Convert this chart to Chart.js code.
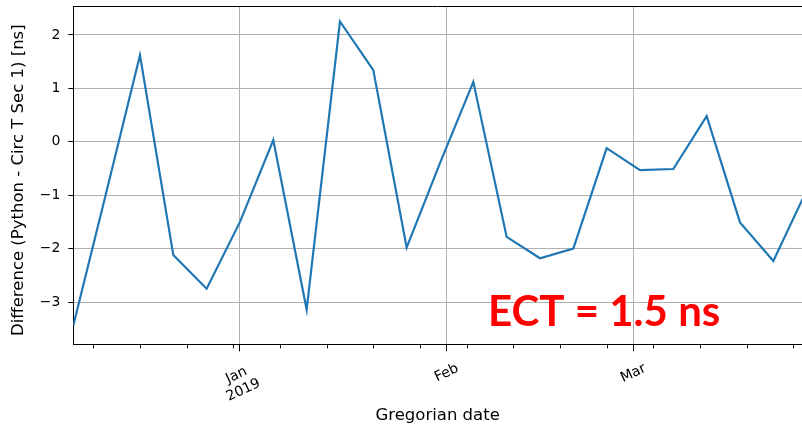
<!DOCTYPE html>
<html>
<head>
<meta charset="utf-8">
<script src="https://cdn.jsdelivr.net/npm/chart.js@4.4.1/dist/chart.umd.min.js"></script>
<style>
  html, body { margin: 0; padding: 0; background: #fff; }
  #wrap { width: 802px; height: 429px; position: relative; }
</style>
</head>
<body>
<div id="wrap"><canvas id="chart"></canvas></div>
<script>
// one sample every 5 days, difference in ns
const dates = [
    '2018-12-07', '2018-12-12', '2018-12-17', '2018-12-22', '2018-12-27',
    '2019-01-01', '2019-01-06', '2019-01-11', '2019-01-16', '2019-01-21', '2019-01-26', '2019-01-31',
    '2019-02-05', '2019-02-10', '2019-02-15', '2019-02-20', '2019-02-25',
    '2019-03-02', '2019-03-07', '2019-03-12', '2019-03-17', '2019-03-22', '2019-03-27'
];
const diffNs = [
    -3.44, -0.92, 1.62, -2.12, -2.75,
    -1.50, 0.03, -3.14, 2.25, 1.34, -1.98, -0.40,
    1.12, -1.78, -2.18, -2.00, -0.12,
    -0.53, -0.51, 0.48, -1.51, -2.23, -0.91
];

const majorTicks = ['2019-01-01', '2019-02-01', '2019-03-01'];
const majorLabels = ['Jan\n2019', 'Feb', 'Mar'];
const minorTicks = [
    '2018-12-10', '2018-12-17', '2018-12-24', '2018-12-31',
    '2019-01-07', '2019-01-14', '2019-01-21', '2019-01-28',
    '2019-02-04', '2019-02-11', '2019-02-18', '2019-02-25',
    '2019-03-04', '2019-03-11', '2019-03-18', '2019-03-25'
];
const yTitle = 'Difference (Python - Circ T Sec 1) [ns]';
const annotation = 'ECT = 1.5 ns';

const origin = Date.parse('2019-01-01');
function dayOf(s) {
    return (Date.parse(s) - origin) / 864e5;
}

const xMin = dayOf('2018-12-07');
const xMax = dayOf('2019-03-26') + 0.3;

const extras = {
    id: 'extras',
    afterDraw(chart) {
        const { ctx, chartArea: a, scales: { x } } = chart;
        ctx.save();
        ctx.strokeStyle = '#000';
        ctx.lineWidth = 1;
        // top spine
        ctx.beginPath();
        ctx.moveTo(a.left, Math.round(a.top) + 0.5);
        ctx.lineTo(a.right, Math.round(a.top) + 0.5);
        ctx.stroke();
        // minor ticks (weekly)
        ctx.beginPath();
        minorTicks.forEach(d => {
            const px = Math.round(x.getPixelForValue(dayOf(d))) + 0.5;
            ctx.moveTo(px, a.bottom);
            ctx.lineTo(px, a.bottom + 4);
        });
        ctx.stroke();
        // rotated month labels
        ctx.font = '14px "DejaVu Sans"';
        ctx.fillStyle = '#000';
        ctx.textAlign = 'center';
        ctx.textBaseline = 'middle';
        const ang = 25 * Math.PI / 180;
        const lh = 16.5;
        majorTicks.forEach((d, i) => {
            const lines = majorLabels[i].split('\n');
            const w = Math.max(...lines.map(l => ctx.measureText(l).width));
            const h = lines.length * lh;
            const boxH = w * Math.sin(ang) + h * Math.cos(ang);
            const cx = x.getPixelForValue(dayOf(d));
            const cy = a.bottom + 16 + boxH / 2;
            ctx.save();
            ctx.translate(cx, cy);
            ctx.rotate(-ang);
            lines.forEach((l, j) => ctx.fillText(l, 0, (j - (lines.length - 1) / 2) * lh));
            ctx.restore();
        });
        // y axis title
        ctx.font = '16.5px "DejaVu Sans"';
        ctx.save();
        ctx.translate(18.3, (a.top + a.bottom) / 2 + 5);
        ctx.rotate(-Math.PI / 2);
        ctx.fillText(yTitle, 0, 0);
        ctx.restore();
        // annotation
        ctx.font = 'bold 42px Lato';
        ctx.fillStyle = '#ff0000';
        ctx.textAlign = 'left';
        ctx.textBaseline = 'alphabetic';
        ctx.fillText(annotation, 488, 326);
        ctx.restore();
    }
};

const ctx = document.getElementById('chart').getContext('2d');
const chart = new Chart(ctx, {
    type: 'line',
    data: {
        datasets: [{
            data: dates.map((d, i) => ({ x: dayOf(d), y: diffNs[i] })),
            borderColor: '#1f77b4',
            borderWidth: 2.2,
            pointRadius: 0,
            tension: 0,
            fill: false
        }]
    },
    options: {
        responsive: true,
        maintainAspectRatio: false,
        animation: false,
        layout: { padding: { top: 6, right: 0, bottom: 0, left: 0 } },
        plugins: {
            legend: { display: false },
            tooltip: { enabled: false }
        },
        scales: {
            x: {
                type: 'linear',
                min: xMin,
                max: xMax,
                afterBuildTicks: s => { s.ticks = majorTicks.map(d => ({ value: dayOf(d) })); },
                afterFit: s => { s.height = 84.7; s.paddingLeft = 0; s.paddingRight = 0; },
                ticks: { display: false },
                grid: { color: '#b0b0b0', lineWidth: 1, tickColor: '#000', tickLength: 7 },
                border: { color: '#000', width: 1 },
                title: {
                    display: true,
                    text: 'Gregorian date',
                    color: '#000',
                    font: { family: 'DejaVu Sans', size: 16.5 },
                    padding: { top: 0, bottom: 3 }
                }
            },
            y: {
                min: -3.79,
                max: 2.54,
                afterFit: s => { s.width = 73.3; s.paddingTop = 0; s.paddingBottom = 0; },
                ticks: {
                    stepSize: 1,
                    includeBounds: false,
                    padding: 8,
                    color: '#000',
                    font: { family: 'DejaVu Sans', size: 14 },
                    callback: v => v < 0 ? '\u2212' + Math.abs(v) : String(v)
                },
                grid: { color: '#b0b0b0', lineWidth: 1, tickColor: '#000', tickLength: 5 },
                border: { color: '#000', width: 1 },
                title: { display: false }
            }
        }
    },
    plugins: [extras]
});
</script>
</body>
</html>
